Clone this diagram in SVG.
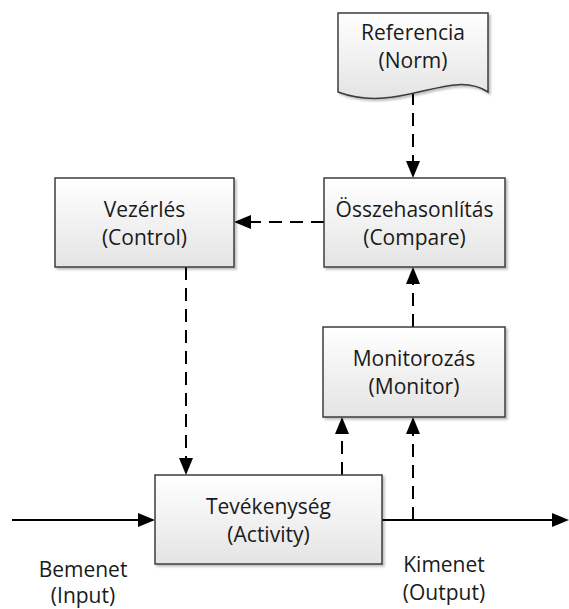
<svg xmlns="http://www.w3.org/2000/svg" width="569" height="609" viewBox="0 0 569 609">
<defs>
<linearGradient id="g" x1="0" y1="0" x2="0" y2="1">
<stop offset="0" stop-color="#ffffff"/>
<stop offset="1" stop-color="#e4e4e4"/>
</linearGradient>
<marker id="ah" markerUnits="userSpaceOnUse" markerWidth="18" markerHeight="14" viewBox="0 0 17 14" refX="0" refY="7" orient="auto">
<path d="M0,0 L17,7 L0,14 z" fill="#000"/>
</marker>
<filter id="sh" x="-5%" y="-5%" width="115%" height="115%">
<feDropShadow dx="2" dy="2" stdDeviation="1.2" flood-color="#000" flood-opacity="0.25"/>
</filter>
</defs>
<style>
.box{fill:url(#g);stroke:#3c3c3c;stroke-width:1.5;filter:url(#sh)}
.t{font-family:"Open Sans","Liberation Sans",sans-serif;font-size:21px;fill:#1a1a1a;text-anchor:middle}
.c{fill:none;stroke:#000;stroke-width:2}
.d{stroke-dasharray:13 8}
.a{marker-end:url(#ah)}
</style>

<g id="connectors">
<line class="c d a" x1="413" y1="92" x2="413" y2="161"/>
<line class="c d a" x1="324" y1="222" x2="251" y2="222"/>
<line class="c d a" x1="186" y1="267" x2="186" y2="458"/>
<line class="c d a" x1="413" y1="327" x2="413" y2="284"/>
<line class="c d a" x1="342" y1="475" x2="342" y2="434"/>
<line class="c d a" x1="413" y1="520" x2="413" y2="434"/>
<line class="c a" x1="12" y1="520" x2="138" y2="520"/>
<line class="c a" x1="382" y1="520" x2="552" y2="520"/>
</g>

<g id="referencia">
<path class="box" d="M338,13 H488 V92 C450,67 400,115 338,92 Z"/>
<text class="t" x="413" y="40">Referencia</text>
<text class="t" x="413" y="68">(Norm)</text>
</g>

<g id="osszehasonlitas">
<rect class="box" x="324" y="178" width="181" height="89"/>
<text class="t" x="414.5" y="217">Összehasonlítás</text>
<text class="t" x="414.5" y="245">(Compare)</text>
</g>

<g id="vezerles">
<rect class="box" x="55" y="178" width="179" height="89"/>
<text class="t" x="144.5" y="217">Vezérlés</text>
<text class="t" x="144.5" y="245">(Control)</text>
</g>

<g id="monitorozas">
<rect class="box" x="323" y="327" width="182" height="90"/>
<text class="t" x="414" y="366">Monitorozás</text>
<text class="t" x="414" y="394">(Monitor)</text>
</g>

<g id="tevekenyseg">
<rect class="box" x="155" y="475" width="227" height="89"/>
<text class="t" x="268.5" y="514">Tevékenység</text>
<text class="t" x="268.5" y="542">(Activity)</text>
</g>

<g id="bemenet">
<text class="t" x="83" y="577">Bemenet</text>
<text class="t" x="83" y="603">(Input)</text>
</g>

<g id="kimenet">
<text class="t" x="444" y="572">Kimenet</text>
<text class="t" x="444" y="600">(Output)</text>
</g>
</svg>
